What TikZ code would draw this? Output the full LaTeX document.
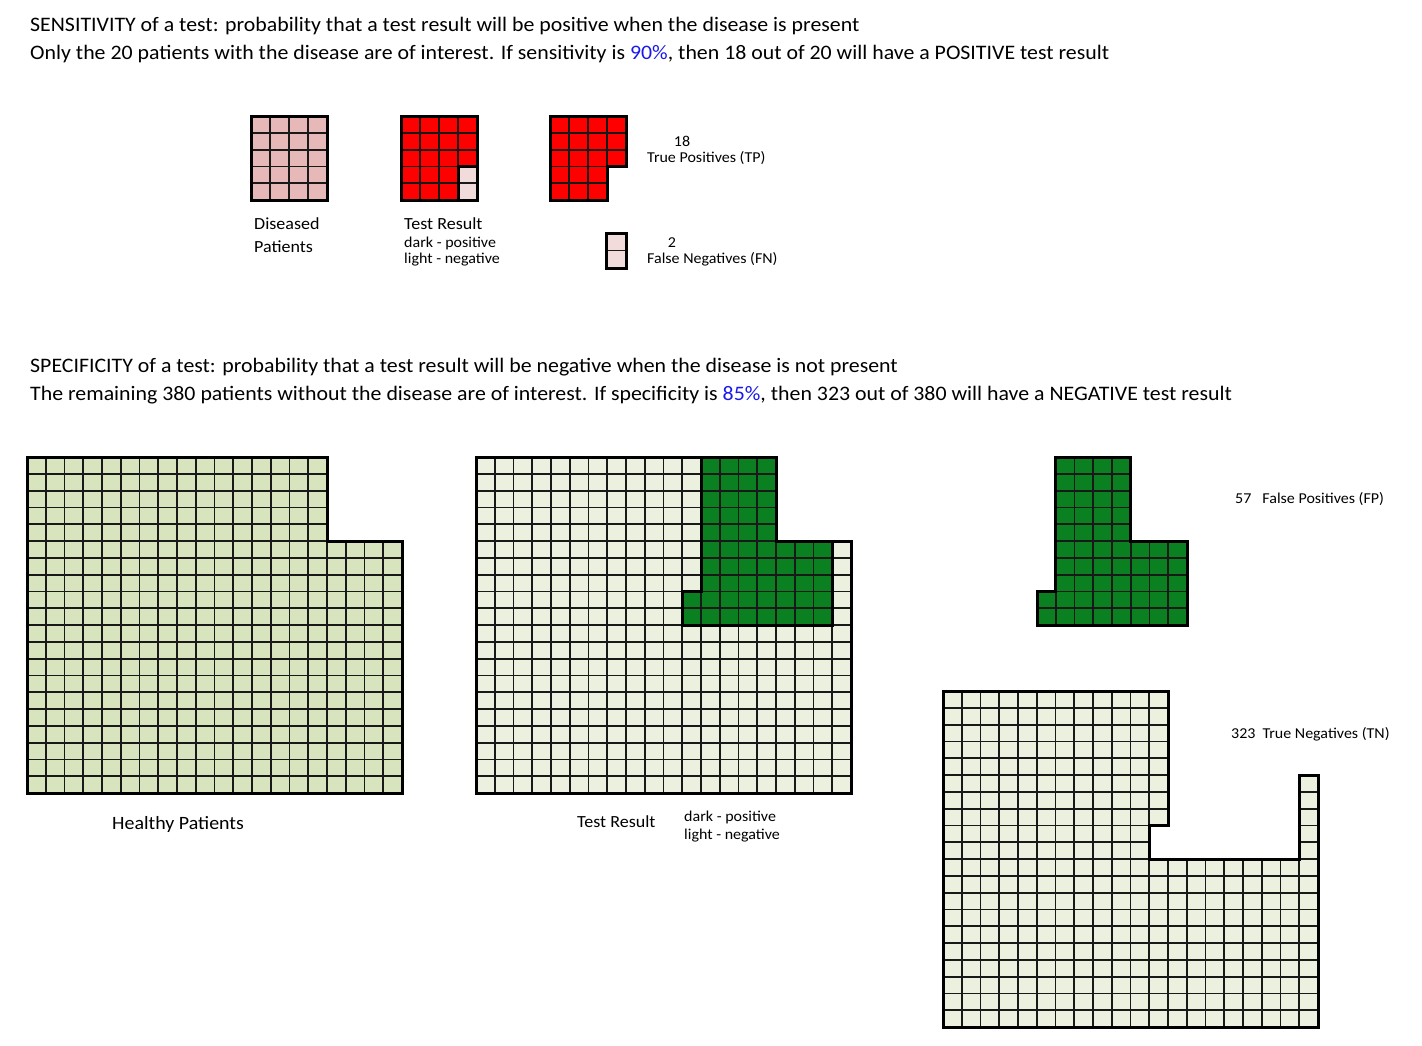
\documentclass[tikz,border=0pt]{standalone}
\usepackage{fontspec}
\setmainfont{Carlito}[FakeStretch=1.06]
\usepackage{xcolor}
\usetikzlibrary{positioning}
\definecolor{sickpink}{RGB}{230,184,183}
\definecolor{sickred}{RGB}{255,0,0}
\definecolor{palepink}{RGB}{242,220,219}
\definecolor{wellgreen}{RGB}{215,228,189}
\definecolor{palegreen}{RGB}{235,241,222}
\definecolor{posgreen}{RGB}{10,128,32}
\definecolor{pctblue}{RGB}{25,25,235}
\tikzset{
  headtext/.style={anchor=base west,inner sep=0pt,
    font=\fontsize{20.6}{24}\selectfont},
  bigtext/.style={anchor=base west,inner sep=0pt,
    font=\fontsize{18.8}{22}\selectfont},
  labeltext/.style={anchor=base west,inner sep=0pt,
    font=\fontsize{17}{20}\selectfont},
  smalltext/.style={anchor=base west,inner sep=0pt,
    font=\fontsize{15.1}{18}\selectfont},
  cellbox/.style={draw=black!90,line width=1.8pt},
  outline/.style={draw=black,line width=3pt,line join=miter}
}
% one block of cells, in cell units: first col, first row, last col, last row, fill
\newcommand{\cellblock}[5]{%
  \foreach \c in {#1,...,#3}
    \foreach \r in {#2,...,#4}
      \filldraw[cellbox,fill=#5] (\c,\r) rectangle ++(1,1);
}

\begin{document}
\begin{tikzpicture}[x=1pt,y=-1pt]
  \useasboundingbox (0,0) rectangle (1422,1045);

  % sensitivity
  \node[headtext] (senshead) at (30,31)
    {SENSITIVITY of a test: probability that a test result will be positive when the disease is present};
  \node[headtext] (sensline) at (30,59)
    {Only the 20 patients with the disease are of interest. If sensitivity is \textcolor{pctblue}{90\%}, then 18 out of 20 will have a POSITIVE test result};

  \begin{scope}[shift={(251,116)},x=19pt,y=-16.8pt]
    \cellblock{0}{0}{3}{4}{sickpink}
    \draw[outline] (0,0) rectangle (4,5);
  \end{scope}
  \begin{scope}[shift={(401,116)},x=19pt,y=-16.8pt]
    \cellblock{0}{0}{3}{4}{sickred}
    \cellblock{3}{3}{3}{4}{palepink}
    \draw[outline] (0,0) rectangle (4,5);
    \draw[outline] (3,3) rectangle (4,5);
  \end{scope}
  \begin{scope}[shift={(550,116)},x=19pt,y=-16.8pt]
    \cellblock{0}{0}{3}{2}{sickred}
    \cellblock{0}{3}{2}{4}{sickred}
    \draw[outline] (0,0) -- (4,0) -- (4,3) -- (3,3) -- (3,5) -- (0,5) -- cycle;
  \end{scope}
  \begin{scope}[shift={(606,233)},x=20pt,y=-17.5pt]
    \cellblock{0}{0}{0}{1}{palepink}
    \draw[outline] (0,0) rectangle (1,2);
  \end{scope}

  \node[labeltext] (diseased) at (254,229) {Diseased};
  \node[labeltext] (patients) at (254,252) {Patients};
  \node[labeltext] (sensresult) at (404,229) {Test Result};
  \node[smalltext] (sensdark) at (404,247) {dark - positive};
  \node[smalltext] (senslight) at (404,263) {light - negative};
  \node[smalltext,anchor=base] (tpcount) at (682,146) {18};
  \node[smalltext] (tpname) at (647,162) {True Positives (TP)};
  \node[smalltext,anchor=base] (fncount) at (672,247) {2};
  \node[smalltext] (fnname) at (647,263) {False Negatives (FN)};

  % specificity
  \node[headtext] (spechead) at (30,372)
    {SPECIFICITY of a test: probability that a test result will be negative when the disease is not present};
  \node[headtext] (specline) at (30,400)
    {The remaining 380 patients without the disease are of interest. If specificity is \textcolor{pctblue}{85\%}, then 323 out of 380 will have a NEGATIVE test result};

  \begin{scope}[shift={(27,457)},x=18.75pt,y=-16.8pt]
    \cellblock{0}{0}{15}{4}{wellgreen}
    \cellblock{0}{5}{19}{19}{wellgreen}
    \draw[outline] (0,0) -- (16,0) -- (16,5) -- (20,5) -- (20,20) -- (0,20) -- cycle;
  \end{scope}
  \begin{scope}[shift={(476,457)},x=18.75pt,y=-16.8pt]
    \cellblock{0}{0}{15}{4}{palegreen}
    \cellblock{0}{5}{19}{19}{palegreen}
    \cellblock{12}{0}{15}{4}{posgreen}
    \cellblock{12}{5}{18}{7}{posgreen}
    \cellblock{11}{8}{18}{9}{posgreen}
    \draw[outline] (0,0) -- (16,0) -- (16,5) -- (20,5) -- (20,20) -- (0,20) -- cycle;
    \draw[outline] (12,0) -- (16,0) -- (16,5) -- (19,5) -- (19,10) -- (11,10) -- (11,8) -- (12,8) -- cycle;
  \end{scope}
  \begin{scope}[shift={(1037,457)},x=18.75pt,y=-16.8pt]
    \cellblock{1}{0}{4}{4}{posgreen}
    \cellblock{1}{5}{7}{7}{posgreen}
    \cellblock{0}{8}{7}{9}{posgreen}
    \draw[outline] (1,0) -- (5,0) -- (5,5) -- (8,5) -- (8,10) -- (0,10) -- (0,8) -- (1,8) -- cycle;
  \end{scope}
  \begin{scope}[shift={(943,691)},x=18.75pt,y=-16.8pt]
    \cellblock{0}{0}{11}{7}{palegreen}
    \cellblock{0}{8}{10}{9}{palegreen}
    \cellblock{19}{5}{19}{9}{palegreen}
    \cellblock{0}{10}{19}{19}{palegreen}
    \draw[outline] (0,0) -- (12,0) -- (12,8) -- (11,8) -- (11,10) -- (19,10) -- (19,5) -- (20,5) -- (20,20) -- (0,20) -- cycle;
  \end{scope}

  \node[bigtext] (healthy) at (112,829) {Healthy Patients};
  \node[labeltext] (specresult) at (577,827) {Test Result};
  \node[smalltext] (specdark) at (684,821) {dark - positive};
  \node[smalltext] (speclight) at (684,839) {light - negative};
  \node[smalltext] (fpname) at (1235,503) {57\hspace{11pt}False Positives (FP)};
  \node[smalltext] (tnname) at (1231,738) {323\hspace{7pt}True Negatives (TN)};
\end{tikzpicture}
\end{document}
